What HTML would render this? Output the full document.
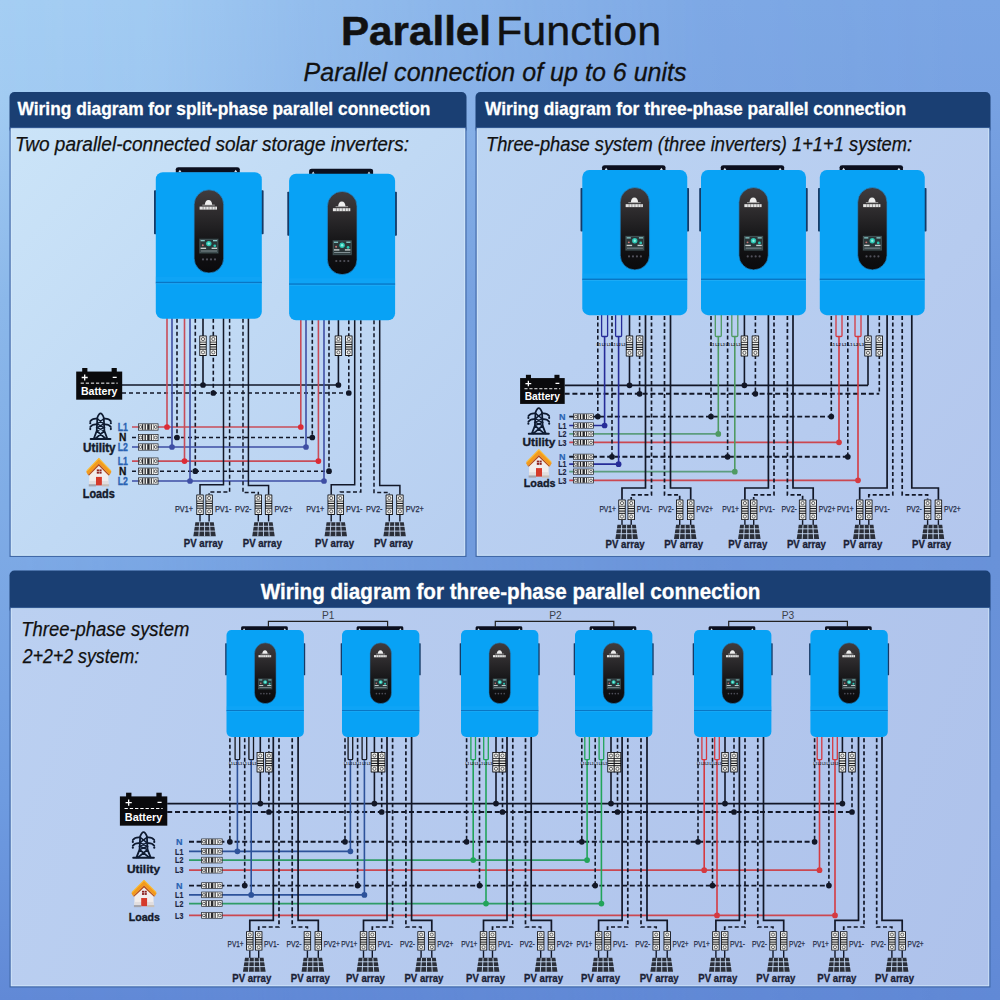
<!DOCTYPE html><html><head><meta charset="utf-8"><title>Parallel Function</title><style>html,body{margin:0;padding:0;width:1000px;height:1000px;overflow:hidden;background:#8fb7e8}svg{display:block}text{font-family:"Liberation Sans",sans-serif}</style></head><body>
<svg width="1000" height="1000" viewBox="0 0 1000 1000" font-family='"Liberation Sans", sans-serif'>

<defs>
<linearGradient id="bgL" x1="0" y1="0" x2="0" y2="1000" gradientUnits="userSpaceOnUse">
  <stop offset="0" stop-color="#a5cef3"/>
  <stop offset="0.1" stop-color="#a2cbf2"/>
  <stop offset="0.3" stop-color="#8cb8ea"/>
  <stop offset="0.8" stop-color="#6e9be0"/>
  <stop offset="1" stop-color="#6189d6"/>
</linearGradient>
<linearGradient id="bgR" x1="0" y1="0" x2="0" y2="1000" gradientUnits="userSpaceOnUse">
  <stop offset="0" stop-color="#7aa5e4"/>
  <stop offset="0.1" stop-color="#78a2e2"/>
  <stop offset="0.3" stop-color="#6a94da"/>
  <stop offset="0.8" stop-color="#6890d8"/>
  <stop offset="1" stop-color="#6189d6"/>
</linearGradient>
<linearGradient id="bgMaskG" x1="0" y1="0" x2="1000" y2="0" gradientUnits="userSpaceOnUse">
  <stop offset="0" stop-color="#fff"/>
  <stop offset="0.15" stop-color="#e6e6e6"/>
  <stop offset="0.3" stop-color="#999"/>
  <stop offset="0.5" stop-color="#595959"/>
  <stop offset="0.7" stop-color="#1a1a1a"/>
  <stop offset="1" stop-color="#000"/>
</linearGradient>
<mask id="bgMask"><rect width="1000" height="1000" fill="url(#bgMaskG)"/></mask>
<linearGradient id="p1G" x1="10" y1="128" x2="466" y2="557" gradientUnits="userSpaceOnUse">
  <stop offset="0" stop-color="#cbe4f8"/>
  <stop offset="0.5" stop-color="#c0d9f4"/>
  <stop offset="1" stop-color="#b7cef0"/>
</linearGradient>
<linearGradient id="p2G" x1="476" y1="128" x2="990" y2="557" gradientUnits="userSpaceOnUse">
  <stop offset="0" stop-color="#bcd5f3"/>
  <stop offset="1" stop-color="#b3c6ed"/>
</linearGradient>
<linearGradient id="p3G" x1="10" y1="608" x2="990" y2="987" gradientUnits="userSpaceOnUse">
  <stop offset="0" stop-color="#bbd0f1"/>
  <stop offset="1" stop-color="#aec2eb"/>
</linearGradient>
<linearGradient id="dispG" x1="0" y1="0" x2="0" y2="1">
  <stop offset="0" stop-color="#403c3e"/>
  <stop offset="0.3" stop-color="#2c2a2c"/>
  <stop offset="0.6" stop-color="#161618"/>
  <stop offset="1" stop-color="#0a0a0c"/>
</linearGradient>
<g id="inv">
  <path d="M20 0.5 L20 -3 Q20 -5 22.5 -5 L81.5 -5 Q84 -5 84 -3 L84 0.5 Z" fill="#0b0f1e"/>
  <path d="M22.6 -0.1 L24.1 -2.4 L25.6 -0.1 Z M78.4 -0.1 L79.9 -2.4 L81.4 -0.1 Z" fill="#d6e2ee"/>
  <rect x="-1.8" y="18" width="2.6" height="44" rx="0.8" fill="#163a66"/>
  <rect x="105.2" y="18" width="2.6" height="44" rx="0.8" fill="#163a66"/>
  <rect x="0" y="0" width="106" height="146.5" rx="7" fill="#08a2f5"/>
  <rect x="0" y="104.5" width="106" height="5.1" fill="#1aaaf8" opacity="0.35"/>
  <rect x="0" y="109.6" width="106" height="1.4" fill="#0a76c4"/>
  <rect x="0" y="111" width="106" height="1" fill="#2bb0f7" opacity="0.6"/>
  <rect x="38.3" y="17.6" width="29.6" height="83.2" rx="14.8" fill="url(#dispG)" stroke="#1b8fd8" stroke-width="0.7"/>
  <path d="M49 32.7 Q49.4 27.8 52.7 27.8 Q56 27.8 56.4 32.7 Z" fill="#eeeeee"/>
  <path d="M46.5 32.9 H59" stroke="#bdbdbd" stroke-width="0.8"/>
  <rect x="43.8" y="34.4" width="17.4" height="3" fill="#e4e4e4"/>
  <path d="M47.3 34.4 v3 M50.1 34.4 v3 M53.2 34.4 v3 M56.4 34.4 v3 M59.2 34.4 v3" stroke="#3a3a3a" stroke-width="0.45"/>
  <rect x="43.3" y="66.3" width="19.6" height="15.2" fill="#2a3638"/>
  <rect x="44.2" y="67.2" width="17.8" height="13.4" fill="none" stroke="#55686c" stroke-width="0.5"/>
  <circle cx="53" cy="71.4" r="2.7" fill="#2cc7b4"/>
  <circle cx="53" cy="71.4" r="1.2" fill="#8ef0e0"/>
  <rect x="44.8" y="67.8" width="4.2" height="1.3" fill="#8cc"/>
  <rect x="57.2" y="67.8" width="4.2" height="1.3" fill="#8cc"/>
  <rect x="44.8" y="75.4" width="5.5" height="1.4" fill="#c8d0d0"/>
  <rect x="55.8" y="75.4" width="5.5" height="1.4" fill="#c8d0d0"/>
  <circle cx="59" cy="73.6" r="1.4" fill="#2cc7b4"/>
  <circle cx="47" cy="73" r="1" fill="#c77"/>
  <rect x="45" y="78.3" width="16.2" height="1" fill="#8a9a9e"/>
  <circle cx="47.2" cy="87.2" r="1.1" fill="#50505a"/>
  <circle cx="51.2" cy="87.2" r="1.1" fill="#50505a"/>
  <circle cx="55.2" cy="87.2" r="1.1" fill="#50505a"/>
  <circle cx="59.2" cy="87.2" r="1.1" fill="#50505a"/>
</g>
<g id="brk">
  <rect x="0" y="0" width="7.4" height="20.4" rx="0.4" fill="#15161a"/>
  <rect x="0.9" y="0.9" width="5.6" height="5.3" fill="#f3f3ef"/>
  <rect x="0.9" y="14.2" width="5.6" height="5.3" fill="#f3f3ef"/>
  <rect x="0.9" y="7.0" width="5.6" height="1.4" fill="#f0f0ec"/>
  <rect x="0.9" y="9.5" width="5.6" height="1.4" fill="#f0f0ec"/>
  <rect x="0.9" y="12.0" width="5.6" height="1.2" fill="#f0f0ec"/>
  <circle cx="3.7" cy="3.55" r="1.6" fill="none" stroke="#2a2a2e" stroke-width="0.7"/>
  <circle cx="3.7" cy="16.85" r="1.6" fill="none" stroke="#2a2a2e" stroke-width="0.7"/>
</g>
<g id="term">
  <rect x="0.35" y="0.35" width="19.7" height="6.3" fill="#f6f6f2" stroke="#16171c" stroke-width="0.7"/>
  <circle cx="2.5" cy="3.5" r="1.45" fill="none" stroke="#1d1d22" stroke-width="0.7"/>
  <circle cx="17.7" cy="3.5" r="1.45" fill="none" stroke="#1d1d22" stroke-width="0.7"/>
  <rect x="4.1" y="0.7" width="1.1" height="5.6" fill="#1a1a1e"/>
  <rect x="6.6" y="0.7" width="1.2" height="5.6" fill="#1a1a1e"/>
  <rect x="9.2" y="0.7" width="2.4" height="5.6" fill="#2a2a2e"/>
  <rect x="12.8" y="0.7" width="1" height="5.6" fill="#1a1a1e"/>
  <rect x="15.2" y="0.7" width="0.5" height="5.6" fill="#555"/>
</g>
<g id="solar">
  <path d="M2 0 L20 0 L22 14 L0 14 Z" fill="#2b2f39"/>
  <path d="M0.6 4 L21.4 4 M0.2 8.8 L21.8 8.8 M6.2 0 L5.4 14 M11 0 L11 14 M15.8 0 L16.6 14" stroke="#c4d6f0" stroke-width="0.9" fill="none"/>
</g>
<g id="bat">
  <rect x="6" y="0" width="5.2" height="4.5" fill="#0a0a0c"/>
  <rect x="35.4" y="0" width="5.2" height="4.5" fill="#0a0a0c"/>
  <rect x="0" y="3.6" width="46" height="28.4" fill="#0a0a0c"/>
  <path d="M5.5 9.6 h6 M8.5 6.6 v6 M36.5 9.4 h4" stroke="#fff" stroke-width="1.3"/>
  <path d="M4.5 15.3 H41.5" stroke="#fff" stroke-width="1" stroke-dasharray="3.2 1.9"/>
  <text x="23" y="27.2" font-size="11.2" font-weight="bold" fill="#fff" text-anchor="middle" textLength="36.5" lengthAdjust="spacingAndGlyphs">Battery</text>
</g>
<g id="tower" fill="none" stroke="#0e1a30" stroke-width="1.8" stroke-linecap="round">
  <path d="M8.4 19.6 L9 6.4 Q12.3 -2.2 15.6 6.4 L16.2 19.6 M8.4 19.6 L5.4 27.4 M16.2 19.6 L19.2 27.4 M8.4 19.6 L17.6 27.4 M16.2 19.6 L7 27.4"/>
  <path d="M2.2 27.8 H22.4" stroke-width="2"/>
  <path d="M9 7.4 L15.6 12.6 L8.7 16.4 L16.2 19.6 M15.6 7.4 L8.8 12.6 L15.9 16.4 L8.4 19.6" stroke-width="1.4"/>
  <path d="M9 7.4 Q4 6.8 1.8 10 M8.8 13.2 Q4 12.6 1.8 15.8 M15.6 7.4 Q20.6 6.8 22.8 10 M15.8 13.2 Q20.6 12.6 22.8 15.8"/>
  <path d="M1.8 11.7 v0.2 M1.8 17.6 v0.2 M22.8 11.7 v0.2 M22.8 17.6 v0.2" stroke-width="2.1"/>
</g>
<g id="house">
  <path d="M3.5 14 L13.3 5 L23 14 L23 27 L3.5 27 Z" fill="#f1eded"/>
  <path d="M3.5 23.5 H23 V27 H3.5 Z" fill="#e2dedf"/>
  <path d="M0.4 14.2 L13.3 0.4 L26.2 14.2 L24.4 17.4 L13.3 6.2 L2.2 17.4 Z" fill="#f39a1c"/>
  <path d="M2.2 17.4 L13.3 6.2 L24.4 17.4 L23.2 17.9 L13.3 8.2 L3.4 17.9 Z" fill="#b64a16"/>
  <path d="M1 13.4 L13.3 0.9 L25.6 13.4" fill="none" stroke="#f8be3a" stroke-width="1.1"/>
  <rect x="11.2" y="11.8" width="2.2" height="1.9" fill="#8c2222"/>
  <rect x="13.9" y="11.8" width="2.2" height="1.9" fill="#8c2222"/>
  <rect x="11.2" y="14.2" width="2.2" height="1.9" fill="#8c2222"/>
  <rect x="13.9" y="14.2" width="2.2" height="1.9" fill="#8c2222"/>
  <rect x="10.4" y="19.4" width="6" height="8.6" fill="#d53a2b"/>
  <rect x="3" y="26.8" width="7.4" height="2.2" fill="#a4a4ac"/>
  <rect x="16.4" y="26.8" width="7.4" height="2.2" fill="#c8c0b8"/>
</g>
</defs>

<rect width="1000" height="1000" fill="url(#bgR)"/>
<rect width="1000" height="1000" fill="url(#bgL)" mask="url(#bgMask)"/>
<text x="341" y="45.4" font-size="40" font-weight="bold" font-style="normal" fill="#111" text-anchor="start" textLength="150" lengthAdjust="spacingAndGlyphs" stroke="#111" stroke-width="0.5">Parallel</text>
<text x="495.9" y="45.4" font-size="40" font-weight="normal" font-style="normal" fill="#111" text-anchor="start" textLength="165.3" lengthAdjust="spacingAndGlyphs" stroke="#111" stroke-width="0.35">Function</text>
<text x="303.6" y="81.2" font-size="26.5" font-weight="normal" font-style="italic" fill="#111" text-anchor="start" textLength="383" lengthAdjust="spacingAndGlyphs" stroke="#111" stroke-width="0.3">Parallel connection of up to 6 units</text>
<rect x="9.5" y="92" width="457" height="42" rx="5" fill="#1a3f73"/>
<rect x="10.1" y="128" width="455.8" height="428.4" fill="url(#p1G)" stroke="#4169a8" stroke-width="1.2"/>
<rect x="11.3" y="128.6" width="453.4" height="426.6" fill="none" stroke="#d6ebfb" stroke-width="0.8" opacity="0.8"/>
<rect x="475.5" y="92" width="515" height="42" rx="5" fill="#1a3f73"/>
<rect x="476.1" y="128" width="513.8" height="428.4" fill="url(#p2G)" stroke="#4169a8" stroke-width="1.2"/>
<rect x="477.3" y="128.6" width="511.4" height="426.6" fill="none" stroke="#d6ebfb" stroke-width="0.8" opacity="0.8"/>
<rect x="9.5" y="570.5" width="981" height="43.5" rx="5" fill="#1a3f73"/>
<rect x="10.1" y="608" width="979.8" height="378.9" fill="url(#p3G)" stroke="#4169a8" stroke-width="1.2"/>
<rect x="11.3" y="608.6" width="977.4" height="377.1" fill="none" stroke="#d6ebfb" stroke-width="0.8" opacity="0.8"/>
<text x="17.6" y="115.3" font-size="19" font-weight="bold" font-style="normal" fill="#fff" text-anchor="start" textLength="412.8" lengthAdjust="spacingAndGlyphs" stroke="#fff" stroke-width="0.3">Wiring diagram for split-phase parallel connection</text>
<text x="15" y="151.2" font-size="20.5" font-weight="normal" font-style="italic" fill="#111" text-anchor="start" textLength="394" lengthAdjust="spacingAndGlyphs" stroke="#111" stroke-width="0.25">Two parallel-connected solar storage inverters:</text>
<text x="484.9" y="115.3" font-size="19" font-weight="bold" font-style="normal" fill="#fff" text-anchor="start" textLength="421.2" lengthAdjust="spacingAndGlyphs" stroke="#fff" stroke-width="0.3">Wiring diagram for three-phase parallel connection</text>
<text x="486" y="151.2" font-size="20.5" font-weight="normal" font-style="italic" fill="#111" text-anchor="start" textLength="426" lengthAdjust="spacingAndGlyphs" stroke="#111" stroke-width="0.25">Three-phase system (three inverters) 1+1+1 system:</text>
<text x="260.8" y="598.8" font-size="21.5" font-weight="bold" font-style="normal" fill="#fff" text-anchor="start" textLength="499.6" lengthAdjust="spacingAndGlyphs" stroke="#fff" stroke-width="0.3">Wiring diagram for three-phase parallel connection</text>
<text x="21.3" y="635.8" font-size="20.5" font-weight="normal" font-style="italic" fill="#111" text-anchor="start" textLength="168" lengthAdjust="spacingAndGlyphs" stroke="#111" stroke-width="0.25">Three-phase system</text>
<text x="22.8" y="663" font-size="20.5" font-weight="normal" font-style="italic" fill="#111" text-anchor="start" textLength="116.5" lengthAdjust="spacingAndGlyphs" stroke="#111" stroke-width="0.25">2+2+2 system:</text>
<path d="M132 427 L300.8 427" fill="none" stroke="#c84c58" stroke-width="1.6"/>
<path d="M132 437.5 L312.3 437.5" fill="none" stroke="#121727" stroke-width="1.6" stroke-dasharray="4 3"/>
<path d="M132 447 L306 447" fill="none" stroke="#3e4ea4" stroke-width="1.6"/>
<path d="M132 461.1 L318.4 461.1" fill="none" stroke="#c84c58" stroke-width="1.6"/>
<path d="M132 471.2 L329 471.2" fill="none" stroke="#121727" stroke-width="1.6" stroke-dasharray="4 3"/>
<path d="M132 481 L324 481" fill="none" stroke="#3e4ea4" stroke-width="1.6"/>
<path d="M122 385 L338.4 385" fill="none" stroke="#121727" stroke-width="1.6"/>
<path d="M122 393 L348.8 393" fill="none" stroke="#121727" stroke-width="1.6" stroke-dasharray="4 3"/>
<path d="M167 312.2 L167 427" fill="none" stroke="#c84c58" stroke-width="1.6"/>
<path d="M172 312.2 L172 447" fill="none" stroke="#3e4ea4" stroke-width="1.6"/>
<path d="M177 312.2 L177 437.5" fill="none" stroke="#121727" stroke-width="1.6" stroke-dasharray="4 2.5"/>
<path d="M184.5 312.2 L184.5 461.1" fill="none" stroke="#c84c58" stroke-width="1.6"/>
<path d="M190 312.2 L190 481" fill="none" stroke="#3e4ea4" stroke-width="1.6"/>
<path d="M195.3 312.2 L195.3 471.2" fill="none" stroke="#121727" stroke-width="1.6" stroke-dasharray="4 2.5"/>
<path d="M203 312.2 L203 385" fill="none" stroke="#121727" stroke-width="1.6"/>
<path d="M213.3 312.2 L213.3 393" fill="none" stroke="#121727" stroke-width="1.6" stroke-dasharray="4 2.5"/>
<path d="M223.5 312.2 L223.5 484.8 L200 484.8 L200 494.5" fill="none" stroke="#121727" stroke-width="1.5"/>
<path d="M229.6 312.2 L229.6 492 L209.1 492 L209.1 494.5" fill="none" stroke="#121727" stroke-width="1.5" stroke-dasharray="4 2.5"/>
<path d="M243 312.2 L243 492.6 L258.3 492.6 L258.3 494.5" fill="none" stroke="#121727" stroke-width="1.5" stroke-dasharray="4 2.5"/>
<path d="M248.4 312.2 L248.4 485.5 L268.6 485.5 L268.6 494.5" fill="none" stroke="#121727" stroke-width="1.5"/>
<use href="#brk" transform="translate(199.3 335.5) scale(1 1)"/>
<use href="#brk" transform="translate(209.6 335.5) scale(1 1)"/>
<circle cx="167" cy="427" r="2.85" fill="#dc2a35"/>
<circle cx="172" cy="447" r="2.85" fill="#3e4ea4"/>
<circle cx="177" cy="437.5" r="2.85" fill="#121727"/>
<circle cx="184.5" cy="461.1" r="2.85" fill="#dc2a35"/>
<circle cx="190" cy="481" r="2.85" fill="#3e4ea4"/>
<circle cx="195.3" cy="471.2" r="2.85" fill="#121727"/>
<circle cx="203" cy="385" r="2.85" fill="#121727"/>
<circle cx="213.3" cy="393" r="2.85" fill="#121727"/>
<use href="#brk" transform="translate(196.3 494.5) scale(1 1)"/>
<path d="M200 515 L200 521.5" fill="none" stroke="#121727" stroke-width="1.4"/>
<use href="#brk" transform="translate(205.4 494.5) scale(1 1)"/>
<path d="M209.1 515 L209.1 521.5" fill="none" stroke="#121727" stroke-width="1.4"/>
<use href="#brk" transform="translate(254.6 494.5) scale(1 1)"/>
<path d="M258.3 515 L258.3 521.5" fill="none" stroke="#121727" stroke-width="1.4"/>
<use href="#brk" transform="translate(264.9 494.5) scale(1 1)"/>
<path d="M268.6 515 L268.6 521.5" fill="none" stroke="#121727" stroke-width="1.4"/>
<text x="193" y="512" font-size="9.5" font-weight="normal" font-style="normal" fill="#1f2a44" text-anchor="end" textLength="18" lengthAdjust="spacingAndGlyphs" stroke="#1f2a44" stroke-width="0.25">PV1+</text>
<text x="214.9" y="512" font-size="9.5" font-weight="normal" font-style="normal" fill="#1f2a44" text-anchor="start" textLength="16.5" lengthAdjust="spacingAndGlyphs" stroke="#1f2a44" stroke-width="0.25">PV1-</text>
<text x="251.5" y="512" font-size="9.5" font-weight="normal" font-style="normal" fill="#1f2a44" text-anchor="end" textLength="16.5" lengthAdjust="spacingAndGlyphs" stroke="#1f2a44" stroke-width="0.25">PV2-</text>
<text x="274.4" y="512" font-size="9.5" font-weight="normal" font-style="normal" fill="#1f2a44" text-anchor="start" textLength="18" lengthAdjust="spacingAndGlyphs" stroke="#1f2a44" stroke-width="0.25">PV2+</text>
<use href="#solar" transform="translate(193.35 522.3) scale(1.02 1)"/>
<text x="183.85" y="547" font-size="10.6" font-weight="bold" font-style="normal" fill="#1a2135" text-anchor="start" textLength="39" lengthAdjust="spacingAndGlyphs" stroke="#1a2135" stroke-width="0.3">PV array</text>
<use href="#solar" transform="translate(252.25 522.3) scale(1.02 1)"/>
<text x="242.75" y="547" font-size="10.6" font-weight="bold" font-style="normal" fill="#1a2135" text-anchor="start" textLength="39" lengthAdjust="spacingAndGlyphs" stroke="#1a2135" stroke-width="0.3">PV array</text>
<path d="M300.8 313.8 L300.8 427" fill="none" stroke="#c84c58" stroke-width="1.6"/>
<path d="M306 313.8 L306 447" fill="none" stroke="#3e4ea4" stroke-width="1.6"/>
<path d="M312.3 313.8 L312.3 437.5" fill="none" stroke="#121727" stroke-width="1.6" stroke-dasharray="4 2.5"/>
<path d="M318.4 313.8 L318.4 461.1" fill="none" stroke="#c84c58" stroke-width="1.6"/>
<path d="M324 313.8 L324 481" fill="none" stroke="#3e4ea4" stroke-width="1.6"/>
<path d="M329 313.8 L329 471.2" fill="none" stroke="#121727" stroke-width="1.6" stroke-dasharray="4 2.5"/>
<path d="M338.4 313.8 L338.4 385" fill="none" stroke="#121727" stroke-width="1.6"/>
<path d="M348.8 313.8 L348.8 393" fill="none" stroke="#121727" stroke-width="1.6" stroke-dasharray="4 2.5"/>
<path d="M354.7 313.8 L354.7 484.8 L331.2 484.8 L331.2 494.5" fill="none" stroke="#121727" stroke-width="1.5"/>
<path d="M360.8 313.8 L360.8 492 L340.3 492 L340.3 494.5" fill="none" stroke="#121727" stroke-width="1.5" stroke-dasharray="4 2.5"/>
<path d="M374 313.8 L374 492.6 L389.3 492.6 L389.3 494.5" fill="none" stroke="#121727" stroke-width="1.5" stroke-dasharray="4 2.5"/>
<path d="M379.7 313.8 L379.7 485.5 L399.9 485.5 L399.9 494.5" fill="none" stroke="#121727" stroke-width="1.5"/>
<use href="#brk" transform="translate(334.7 335.5) scale(1 1)"/>
<use href="#brk" transform="translate(345.1 335.5) scale(1 1)"/>
<circle cx="300.8" cy="427" r="2.85" fill="#dc2a35"/>
<circle cx="306" cy="447" r="2.85" fill="#3e4ea4"/>
<circle cx="312.3" cy="437.5" r="2.85" fill="#121727"/>
<circle cx="318.4" cy="461.1" r="2.85" fill="#dc2a35"/>
<circle cx="324" cy="481" r="2.85" fill="#3e4ea4"/>
<circle cx="329" cy="471.2" r="2.85" fill="#121727"/>
<circle cx="338.4" cy="385" r="2.85" fill="#121727"/>
<circle cx="348.8" cy="393" r="2.85" fill="#121727"/>
<use href="#brk" transform="translate(327.5 494.5) scale(1 1)"/>
<path d="M331.2 515 L331.2 521.5" fill="none" stroke="#121727" stroke-width="1.4"/>
<use href="#brk" transform="translate(336.6 494.5) scale(1 1)"/>
<path d="M340.3 515 L340.3 521.5" fill="none" stroke="#121727" stroke-width="1.4"/>
<use href="#brk" transform="translate(385.6 494.5) scale(1 1)"/>
<path d="M389.3 515 L389.3 521.5" fill="none" stroke="#121727" stroke-width="1.4"/>
<use href="#brk" transform="translate(396.2 494.5) scale(1 1)"/>
<path d="M399.9 515 L399.9 521.5" fill="none" stroke="#121727" stroke-width="1.4"/>
<text x="324.2" y="512" font-size="9.5" font-weight="normal" font-style="normal" fill="#1f2a44" text-anchor="end" textLength="18" lengthAdjust="spacingAndGlyphs" stroke="#1f2a44" stroke-width="0.25">PV1+</text>
<text x="346.1" y="512" font-size="9.5" font-weight="normal" font-style="normal" fill="#1f2a44" text-anchor="start" textLength="16.5" lengthAdjust="spacingAndGlyphs" stroke="#1f2a44" stroke-width="0.25">PV1-</text>
<text x="382.5" y="512" font-size="9.5" font-weight="normal" font-style="normal" fill="#1f2a44" text-anchor="end" textLength="16.5" lengthAdjust="spacingAndGlyphs" stroke="#1f2a44" stroke-width="0.25">PV2-</text>
<text x="405.7" y="512" font-size="9.5" font-weight="normal" font-style="normal" fill="#1f2a44" text-anchor="start" textLength="18" lengthAdjust="spacingAndGlyphs" stroke="#1f2a44" stroke-width="0.25">PV2+</text>
<use href="#solar" transform="translate(324.55 522.3) scale(1.02 1)"/>
<text x="315.05" y="547" font-size="10.6" font-weight="bold" font-style="normal" fill="#1a2135" text-anchor="start" textLength="39" lengthAdjust="spacingAndGlyphs" stroke="#1a2135" stroke-width="0.3">PV array</text>
<use href="#solar" transform="translate(383.4 522.3) scale(1.02 1)"/>
<text x="373.9" y="547" font-size="10.6" font-weight="bold" font-style="normal" fill="#1a2135" text-anchor="start" textLength="39" lengthAdjust="spacingAndGlyphs" stroke="#1a2135" stroke-width="0.3">PV array</text>
<use href="#inv" transform="translate(155.8 172.2) scale(1)"/>
<use href="#inv" transform="translate(289.1 173.8) scale(1)"/>
<use href="#bat" transform="translate(76.2 368) scale(1 0.99)"/>
<use href="#tower" transform="translate(88.5 411.3) scale(0.98 1)"/>
<text x="83.1" y="451.6" font-size="12" font-weight="bold" font-style="normal" fill="#141a2b" text-anchor="start" textLength="32.5" lengthAdjust="spacingAndGlyphs" stroke="#141a2b" stroke-width="0.4">Utility</text>
<use href="#house" transform="translate(85.8 457.7) scale(0.98 0.99)"/>
<text x="82.8" y="497.6" font-size="12" font-weight="bold" font-style="normal" fill="#141a2b" text-anchor="start" textLength="32" lengthAdjust="spacingAndGlyphs" stroke="#141a2b" stroke-width="0.4">Loads</text>
<text x="122.8" y="430.9" font-size="11" font-weight="bold" font-style="normal" fill="#2a63b3" text-anchor="middle" textLength="10.2" lengthAdjust="spacingAndGlyphs" stroke="#2a63b3" stroke-width="0.3">L1</text>
<use href="#term" transform="translate(138 423.5) scale(1 1)"/>
<text x="122.8" y="441.4" font-size="11" font-weight="bold" font-style="normal" fill="#111" text-anchor="middle" textLength="7.4" lengthAdjust="spacingAndGlyphs" stroke="#111" stroke-width="0.3">N</text>
<use href="#term" transform="translate(138 434) scale(1 1)"/>
<text x="122.8" y="450.9" font-size="11" font-weight="bold" font-style="normal" fill="#2a63b3" text-anchor="middle" textLength="10.2" lengthAdjust="spacingAndGlyphs" stroke="#2a63b3" stroke-width="0.3">L2</text>
<use href="#term" transform="translate(138 443.5) scale(1 1)"/>
<text x="122.8" y="465" font-size="11" font-weight="bold" font-style="normal" fill="#2a63b3" text-anchor="middle" textLength="10.2" lengthAdjust="spacingAndGlyphs" stroke="#2a63b3" stroke-width="0.3">L1</text>
<use href="#term" transform="translate(138 457.6) scale(1 1)"/>
<text x="122.8" y="475.1" font-size="11" font-weight="bold" font-style="normal" fill="#111" text-anchor="middle" textLength="7.4" lengthAdjust="spacingAndGlyphs" stroke="#111" stroke-width="0.3">N</text>
<use href="#term" transform="translate(138 467.7) scale(1 1)"/>
<text x="122.8" y="484.9" font-size="11" font-weight="bold" font-style="normal" fill="#2a63b3" text-anchor="middle" textLength="10.2" lengthAdjust="spacingAndGlyphs" stroke="#2a63b3" stroke-width="0.3">L2</text>
<use href="#term" transform="translate(138 477.5) scale(1 1)"/>
<path d="M569.2 416.6 L831.3 416.6" fill="none" stroke="#121727" stroke-width="1.9" stroke-dasharray="5 2.6"/>
<path d="M569.2 425.5 L605.3 425.5" fill="none" stroke="#262c98" stroke-width="1.7"/>
<path d="M569.2 433.9 L718.4 433.9" fill="none" stroke="#5c9d7e" stroke-width="1.7"/>
<path d="M569.2 442.3 L838.8 442.3" fill="none" stroke="#cb4750" stroke-width="1.7"/>
<path d="M569.2 456.8 L847.8 456.8" fill="none" stroke="#121727" stroke-width="1.9" stroke-dasharray="5 2.6"/>
<path d="M569.2 464.2 L619 464.2" fill="none" stroke="#262c98" stroke-width="1.7"/>
<path d="M569.2 471.7 L734.7 471.7" fill="none" stroke="#5c9d7e" stroke-width="1.7"/>
<path d="M569.2 480.3 L857.6 480.3" fill="none" stroke="#cb4750" stroke-width="1.7"/>
<path d="M564.6 385.3 L868 385.3" fill="none" stroke="#121727" stroke-width="1.7"/>
<path d="M564.6 393.8 L879.3 393.8" fill="none" stroke="#121727" stroke-width="1.9" stroke-dasharray="5 2.8"/>
<path d="M597.8 309.4 L597.8 416.6" fill="none" stroke="#121727" stroke-width="1.6" stroke-dasharray="4 2.5"/>
<path d="M612 309.4 L612 456.8" fill="none" stroke="#121727" stroke-width="1.6" stroke-dasharray="4 2.5"/>
<path d="M601.6 309.4 L601.6 335.5 Q601.6 336.5 602.6 336.5 L606.6 336.5 Q607.6 336.5 607.6 335.5 L607.6 309.4" fill="none" stroke="#262c98" stroke-width="1.3"/>
<path d="M604.6 336.5 L604.6 425.5" fill="none" stroke="#262c98" stroke-width="1.6"/>
<path d="M615.6 309.4 L615.6 335.5 Q615.6 336.5 616.6 336.5 L620.6 336.5 Q621.6 336.5 621.6 335.5 L621.6 309.4" fill="none" stroke="#262c98" stroke-width="1.3"/>
<path d="M618.6 336.5 L618.6 464.2" fill="none" stroke="#262c98" stroke-width="1.6"/>
<path d="M629.5 309.4 L629.5 385.3" fill="none" stroke="#121727" stroke-width="1.6"/>
<path d="M639.6 309.4 L639.6 393.8" fill="none" stroke="#121727" stroke-width="1.6" stroke-dasharray="4 2.5"/>
<path d="M645.5 309.4 L645.5 488 L622 488 L622 499.5" fill="none" stroke="#121727" stroke-width="1.7"/>
<path d="M651.5 309.4 L651.5 494.8 L631.2 494.8 L631.2 499.5" fill="none" stroke="#121727" stroke-width="1.7" stroke-dasharray="4 2.5"/>
<path d="M664.5 309.4 L664.5 494.8 L679.7 494.8 L679.7 499.5" fill="none" stroke="#121727" stroke-width="1.7" stroke-dasharray="4 2.5"/>
<path d="M670.5 309.4 L670.5 488 L690.7 488 L690.7 499.5" fill="none" stroke="#121727" stroke-width="1.7"/>
<use href="#brk" transform="translate(625.8 335.5) scale(1 1.03)"/>
<use href="#brk" transform="translate(635.9 335.5) scale(1 1.03)"/>
<circle cx="597.8" cy="416.6" r="2.85" fill="#121727"/>
<circle cx="612" cy="456.8" r="2.85" fill="#121727"/>
<circle cx="604.6" cy="425.5" r="2.85" fill="#262c98"/>
<circle cx="618.6" cy="464.2" r="2.85" fill="#262c98"/>
<circle cx="629.5" cy="385.3" r="2.85" fill="#121727"/>
<circle cx="639.6" cy="393.8" r="2.85" fill="#121727"/>
<text x="596.8" y="345.5" font-size="4.4" fill="#15161c" font-weight="bold" textLength="28.7" lengthAdjust="spacingAndGlyphs">L1 L2 L3 L1 L2 L3</text>
<use href="#brk" transform="translate(618.3 499.5) scale(1 1.01)"/>
<path d="M622 520.1 L622 525.3" fill="none" stroke="#121727" stroke-width="1.4"/>
<use href="#brk" transform="translate(627.5 499.5) scale(1 1.01)"/>
<path d="M631.2 520.1 L631.2 525.3" fill="none" stroke="#121727" stroke-width="1.4"/>
<use href="#brk" transform="translate(676 499.5) scale(1 1.01)"/>
<path d="M679.7 520.1 L679.7 525.3" fill="none" stroke="#121727" stroke-width="1.4"/>
<use href="#brk" transform="translate(687 499.5) scale(1 1.01)"/>
<path d="M690.7 520.1 L690.7 525.3" fill="none" stroke="#121727" stroke-width="1.4"/>
<text x="616" y="512" font-size="9.3" font-weight="normal" font-style="normal" fill="#1f2a44" text-anchor="end" textLength="16.6" lengthAdjust="spacingAndGlyphs" stroke="#1f2a44" stroke-width="0.25">PV1+</text>
<text x="636.8" y="512" font-size="9.3" font-weight="normal" font-style="normal" fill="#1f2a44" text-anchor="start" textLength="15.4" lengthAdjust="spacingAndGlyphs" stroke="#1f2a44" stroke-width="0.25">PV1-</text>
<text x="673.9" y="512" font-size="9.3" font-weight="normal" font-style="normal" fill="#1f2a44" text-anchor="end" textLength="15.4" lengthAdjust="spacingAndGlyphs" stroke="#1f2a44" stroke-width="0.25">PV2-</text>
<text x="696.3" y="512" font-size="9.3" font-weight="normal" font-style="normal" fill="#1f2a44" text-anchor="start" textLength="16.6" lengthAdjust="spacingAndGlyphs" stroke="#1f2a44" stroke-width="0.25">PV2+</text>
<use href="#solar" transform="translate(615.4 524.8) scale(1.02 1.01)"/>
<text x="605.6" y="548" font-size="10.6" font-weight="bold" font-style="normal" fill="#1a2135" text-anchor="start" textLength="39" lengthAdjust="spacingAndGlyphs" stroke="#1a2135" stroke-width="0.3">PV array</text>
<use href="#solar" transform="translate(674 524.8) scale(1.02 1.01)"/>
<text x="664.2" y="548" font-size="10.6" font-weight="bold" font-style="normal" fill="#1a2135" text-anchor="start" textLength="39" lengthAdjust="spacingAndGlyphs" stroke="#1a2135" stroke-width="0.3">PV array</text>
<path d="M711 309.4 L711 416.6" fill="none" stroke="#121727" stroke-width="1.6" stroke-dasharray="4 2.5"/>
<path d="M727.6 309.4 L727.6 456.8" fill="none" stroke="#121727" stroke-width="1.6" stroke-dasharray="4 2.5"/>
<path d="M715.3 309.4 L715.3 335.5 Q715.3 336.5 716.3 336.5 L720.3 336.5 Q721.3 336.5 721.3 335.5 L721.3 309.4" fill="none" stroke="#4f9a62" stroke-width="1.3"/>
<path d="M718.3 336.5 L718.3 433.9" fill="none" stroke="#4f9a62" stroke-width="1.6"/>
<path d="M731.8 309.4 L731.8 335.5 Q731.8 336.5 732.8 336.5 L736.8 336.5 Q737.8 336.5 737.8 335.5 L737.8 309.4" fill="none" stroke="#4f9a62" stroke-width="1.3"/>
<path d="M734.8 336.5 L734.8 471.7" fill="none" stroke="#4f9a62" stroke-width="1.6"/>
<path d="M744.4 309.4 L744.4 385.3" fill="none" stroke="#121727" stroke-width="1.6"/>
<path d="M755.4 309.4 L755.4 393.8" fill="none" stroke="#121727" stroke-width="1.6" stroke-dasharray="4 2.5"/>
<path d="M768.4 309.4 L768.4 488 L744.9 488 L744.9 499.5" fill="none" stroke="#121727" stroke-width="1.7"/>
<path d="M774 309.4 L774 494.8 L753.7 494.8 L753.7 499.5" fill="none" stroke="#121727" stroke-width="1.7" stroke-dasharray="4 2.5"/>
<path d="M787.4 309.4 L787.4 494.8 L802.6 494.8 L802.6 499.5" fill="none" stroke="#121727" stroke-width="1.7" stroke-dasharray="4 2.5"/>
<path d="M793 309.4 L793 488 L813.2 488 L813.2 499.5" fill="none" stroke="#121727" stroke-width="1.7"/>
<use href="#brk" transform="translate(740.7 335.5) scale(1 1.03)"/>
<use href="#brk" transform="translate(751.7 335.5) scale(1 1.03)"/>
<circle cx="711" cy="416.6" r="2.85" fill="#121727"/>
<circle cx="727.6" cy="456.8" r="2.85" fill="#121727"/>
<circle cx="718.3" cy="433.9" r="2.85" fill="#4f9a62"/>
<circle cx="734.8" cy="471.7" r="2.85" fill="#4f9a62"/>
<circle cx="744.4" cy="385.3" r="2.85" fill="#121727"/>
<circle cx="755.4" cy="393.8" r="2.85" fill="#121727"/>
<text x="710" y="345.5" font-size="4.4" fill="#15161c" font-weight="bold" textLength="30.4" lengthAdjust="spacingAndGlyphs">L1 L2 L3 L1 L2 L3</text>
<use href="#brk" transform="translate(741.2 499.5) scale(1 1.01)"/>
<path d="M744.9 520.1 L744.9 525.3" fill="none" stroke="#121727" stroke-width="1.4"/>
<use href="#brk" transform="translate(750 499.5) scale(1 1.01)"/>
<path d="M753.7 520.1 L753.7 525.3" fill="none" stroke="#121727" stroke-width="1.4"/>
<use href="#brk" transform="translate(798.9 499.5) scale(1 1.01)"/>
<path d="M802.6 520.1 L802.6 525.3" fill="none" stroke="#121727" stroke-width="1.4"/>
<use href="#brk" transform="translate(809.5 499.5) scale(1 1.01)"/>
<path d="M813.2 520.1 L813.2 525.3" fill="none" stroke="#121727" stroke-width="1.4"/>
<text x="738.9" y="512" font-size="9.3" font-weight="normal" font-style="normal" fill="#1f2a44" text-anchor="end" textLength="16.6" lengthAdjust="spacingAndGlyphs" stroke="#1f2a44" stroke-width="0.25">PV1+</text>
<text x="759.3" y="512" font-size="9.3" font-weight="normal" font-style="normal" fill="#1f2a44" text-anchor="start" textLength="15.4" lengthAdjust="spacingAndGlyphs" stroke="#1f2a44" stroke-width="0.25">PV1-</text>
<text x="796.8" y="512" font-size="9.3" font-weight="normal" font-style="normal" fill="#1f2a44" text-anchor="end" textLength="15.4" lengthAdjust="spacingAndGlyphs" stroke="#1f2a44" stroke-width="0.25">PV2-</text>
<text x="818.8" y="512" font-size="9.3" font-weight="normal" font-style="normal" fill="#1f2a44" text-anchor="start" textLength="16.6" lengthAdjust="spacingAndGlyphs" stroke="#1f2a44" stroke-width="0.25">PV2+</text>
<use href="#solar" transform="translate(738.1 524.8) scale(1.02 1.01)"/>
<text x="728.3" y="548" font-size="10.6" font-weight="bold" font-style="normal" fill="#1a2135" text-anchor="start" textLength="39" lengthAdjust="spacingAndGlyphs" stroke="#1a2135" stroke-width="0.3">PV array</text>
<use href="#solar" transform="translate(796.7 524.8) scale(1.02 1.01)"/>
<text x="786.9" y="548" font-size="10.6" font-weight="bold" font-style="normal" fill="#1a2135" text-anchor="start" textLength="39" lengthAdjust="spacingAndGlyphs" stroke="#1a2135" stroke-width="0.3">PV array</text>
<path d="M831.3 309.4 L831.3 416.6" fill="none" stroke="#121727" stroke-width="1.6" stroke-dasharray="4 2.5"/>
<path d="M847.8 309.4 L847.8 456.8" fill="none" stroke="#121727" stroke-width="1.6" stroke-dasharray="4 2.5"/>
<path d="M836 309.4 L836 335.5 Q836 336.5 837 336.5 L841 336.5 Q842 336.5 842 335.5 L842 309.4" fill="none" stroke="#d53a40" stroke-width="1.3"/>
<path d="M839 336.5 L839 442.3" fill="none" stroke="#d53a40" stroke-width="1.6"/>
<path d="M855 309.4 L855 335.5 Q855 336.5 856 336.5 L860 336.5 Q861 336.5 861 335.5 L861 309.4" fill="none" stroke="#d53a40" stroke-width="1.3"/>
<path d="M858 336.5 L858 480.3" fill="none" stroke="#d53a40" stroke-width="1.6"/>
<path d="M868 309.4 L868 385.3" fill="none" stroke="#121727" stroke-width="1.6"/>
<path d="M879.3 309.4 L879.3 393.8" fill="none" stroke="#121727" stroke-width="1.6" stroke-dasharray="4 2.5"/>
<path d="M887.1 309.4 L887.1 488 L859.7 488 L859.7 499.5" fill="none" stroke="#121727" stroke-width="1.7"/>
<path d="M892.8 309.4 L892.8 494.8 L868.8 494.8 L868.8 499.5" fill="none" stroke="#121727" stroke-width="1.7" stroke-dasharray="4 2.5"/>
<path d="M902.2 309.4 L902.2 494.8 L927.6 494.8 L927.6 499.5" fill="none" stroke="#121727" stroke-width="1.7" stroke-dasharray="4 2.5"/>
<path d="M911.8 309.4 L911.8 488 L938.4 488 L938.4 499.5" fill="none" stroke="#121727" stroke-width="1.7"/>
<use href="#brk" transform="translate(864.3 335.5) scale(1 1.03)"/>
<use href="#brk" transform="translate(875.6 335.5) scale(1 1.03)"/>
<circle cx="831.3" cy="416.6" r="2.85" fill="#121727"/>
<circle cx="847.8" cy="456.8" r="2.85" fill="#121727"/>
<circle cx="839" cy="442.3" r="2.85" fill="#d53a40"/>
<circle cx="858" cy="480.3" r="2.85" fill="#d53a40"/>
<text x="830.3" y="345.5" font-size="4.4" fill="#15161c" font-weight="bold" textLength="33.7" lengthAdjust="spacingAndGlyphs">L1 L2 L3 L1 L2 L3</text>
<use href="#brk" transform="translate(856 499.5) scale(1 1.01)"/>
<path d="M859.7 520.1 L859.7 525.3" fill="none" stroke="#121727" stroke-width="1.4"/>
<use href="#brk" transform="translate(865.1 499.5) scale(1 1.01)"/>
<path d="M868.8 520.1 L868.8 525.3" fill="none" stroke="#121727" stroke-width="1.4"/>
<use href="#brk" transform="translate(923.9 499.5) scale(1 1.01)"/>
<path d="M927.6 520.1 L927.6 525.3" fill="none" stroke="#121727" stroke-width="1.4"/>
<use href="#brk" transform="translate(934.7 499.5) scale(1 1.01)"/>
<path d="M938.4 520.1 L938.4 525.3" fill="none" stroke="#121727" stroke-width="1.4"/>
<text x="853.7" y="512" font-size="9.3" font-weight="normal" font-style="normal" fill="#1f2a44" text-anchor="end" textLength="16.6" lengthAdjust="spacingAndGlyphs" stroke="#1f2a44" stroke-width="0.25">PV1+</text>
<text x="874.4" y="512" font-size="9.3" font-weight="normal" font-style="normal" fill="#1f2a44" text-anchor="start" textLength="15.4" lengthAdjust="spacingAndGlyphs" stroke="#1f2a44" stroke-width="0.25">PV1-</text>
<text x="921.8" y="512" font-size="9.3" font-weight="normal" font-style="normal" fill="#1f2a44" text-anchor="end" textLength="15.4" lengthAdjust="spacingAndGlyphs" stroke="#1f2a44" stroke-width="0.25">PV2-</text>
<text x="944" y="512" font-size="9.3" font-weight="normal" font-style="normal" fill="#1f2a44" text-anchor="start" textLength="16.6" lengthAdjust="spacingAndGlyphs" stroke="#1f2a44" stroke-width="0.25">PV2+</text>
<use href="#solar" transform="translate(853.05 524.8) scale(1.02 1.01)"/>
<text x="843.25" y="548" font-size="10.6" font-weight="bold" font-style="normal" fill="#1a2135" text-anchor="start" textLength="39" lengthAdjust="spacingAndGlyphs" stroke="#1a2135" stroke-width="0.3">PV array</text>
<use href="#solar" transform="translate(921.8 524.8) scale(1.02 1.01)"/>
<text x="912" y="548" font-size="10.6" font-weight="bold" font-style="normal" fill="#1a2135" text-anchor="start" textLength="39" lengthAdjust="spacingAndGlyphs" stroke="#1a2135" stroke-width="0.3">PV array</text>
<use href="#inv" transform="translate(582.3 170.1) scale(0.99)"/>
<use href="#inv" transform="translate(701 170.1) scale(0.99)"/>
<use href="#inv" transform="translate(819.8 170.1) scale(0.99)"/>
<use href="#bat" transform="translate(520.1 374.8) scale(0.97 0.91)"/>
<use href="#tower" transform="translate(526.6 406) scale(0.99 1)"/>
<text x="522.4" y="446.3" font-size="11.5" font-weight="bold" font-style="normal" fill="#141a2b" text-anchor="start" textLength="32.9" lengthAdjust="spacingAndGlyphs" stroke="#141a2b" stroke-width="0.35">Utility</text>
<use href="#house" transform="translate(525.6 448.9) scale(1 0.99)"/>
<text x="523.7" y="487.2" font-size="11.5" font-weight="bold" font-style="normal" fill="#141a2b" text-anchor="start" textLength="31.8" lengthAdjust="spacingAndGlyphs" stroke="#141a2b" stroke-width="0.35">Loads</text>
<text x="562.3" y="419.8" font-size="8.7" font-weight="bold" font-style="normal" fill="#2a63b3" text-anchor="middle" textLength="6.5" lengthAdjust="spacingAndGlyphs" stroke="#2a63b3" stroke-width="0.2">N</text>
<use href="#term" transform="translate(573.3 413.6) scale(1 0.86)"/>
<text x="562.3" y="428.7" font-size="8.7" font-weight="bold" font-style="normal" fill="#1c2540" text-anchor="middle" textLength="8.2" lengthAdjust="spacingAndGlyphs" stroke="#1c2540" stroke-width="0.2">L1</text>
<use href="#term" transform="translate(573.3 422.5) scale(1 0.86)"/>
<text x="562.3" y="437.1" font-size="8.7" font-weight="bold" font-style="normal" fill="#1c2540" text-anchor="middle" textLength="8.2" lengthAdjust="spacingAndGlyphs" stroke="#1c2540" stroke-width="0.2">L2</text>
<use href="#term" transform="translate(573.3 430.9) scale(1 0.86)"/>
<text x="562.3" y="445.5" font-size="8.7" font-weight="bold" font-style="normal" fill="#1c2540" text-anchor="middle" textLength="8.2" lengthAdjust="spacingAndGlyphs" stroke="#1c2540" stroke-width="0.2">L3</text>
<use href="#term" transform="translate(573.3 439.3) scale(1 0.86)"/>
<text x="562.3" y="460" font-size="8.7" font-weight="bold" font-style="normal" fill="#2a63b3" text-anchor="middle" textLength="6.5" lengthAdjust="spacingAndGlyphs" stroke="#2a63b3" stroke-width="0.2">N</text>
<use href="#term" transform="translate(573.3 453.8) scale(1 0.86)"/>
<text x="562.3" y="467.4" font-size="8.7" font-weight="bold" font-style="normal" fill="#1c2540" text-anchor="middle" textLength="8.2" lengthAdjust="spacingAndGlyphs" stroke="#1c2540" stroke-width="0.2">L1</text>
<use href="#term" transform="translate(573.3 461.2) scale(1 0.86)"/>
<text x="562.3" y="474.9" font-size="8.7" font-weight="bold" font-style="normal" fill="#1c2540" text-anchor="middle" textLength="8.2" lengthAdjust="spacingAndGlyphs" stroke="#1c2540" stroke-width="0.2">L2</text>
<use href="#term" transform="translate(573.3 468.7) scale(1 0.86)"/>
<text x="562.3" y="483.5" font-size="8.7" font-weight="bold" font-style="normal" fill="#1c2540" text-anchor="middle" textLength="8.2" lengthAdjust="spacingAndGlyphs" stroke="#1c2540" stroke-width="0.2">L3</text>
<use href="#term" transform="translate(573.3 477.3) scale(1 0.86)"/>
<path d="M189 841.8 L814.6 841.8" fill="none" stroke="#121727" stroke-width="1.9" stroke-dasharray="5 2.6"/>
<path d="M189 851.3 L350.2 851.3" fill="none" stroke="#2d529a" stroke-width="1.7"/>
<path d="M189 860.1 L587.1 860.1" fill="none" stroke="#2f9c66" stroke-width="1.7"/>
<path d="M189 870.2 L819.5 870.2" fill="none" stroke="#cb4750" stroke-width="1.7"/>
<path d="M189 885.6 L828.9 885.6" fill="none" stroke="#121727" stroke-width="1.9" stroke-dasharray="5 2.6"/>
<path d="M189 894.9 L364.5 894.9" fill="none" stroke="#2d529a" stroke-width="1.7"/>
<path d="M189 903.6 L601.4 903.6" fill="none" stroke="#2f9c66" stroke-width="1.7"/>
<path d="M189 915.4 L835 915.4" fill="none" stroke="#cb4750" stroke-width="1.7"/>
<path d="M167.2 803.6 L842.4 803.6" fill="none" stroke="#121727" stroke-width="1.7"/>
<path d="M167.2 812 L852 812" fill="none" stroke="#121727" stroke-width="1.9" stroke-dasharray="5 2.8"/>
<path d="M229.9 731.78 L229.9 841.8" fill="none" stroke="#121727" stroke-width="1.6" stroke-dasharray="4 2.5"/>
<path d="M244.7 731.78 L244.7 885.6" fill="none" stroke="#121727" stroke-width="1.6" stroke-dasharray="4 2.5"/>
<path d="M235.1 731.78 L235.1 758.7 Q235.1 759.7 236.1 759.7 L238.7 759.7 Q239.7 759.7 239.7 758.7 L239.7 731.78" fill="none" stroke="#16181f" stroke-width="1.3"/>
<path d="M237.4 759.7 L237.4 851.3" fill="none" stroke="#2d529a" stroke-width="1.6"/>
<path d="M248.9 731.78 L248.9 758.7 Q248.9 759.7 249.9 759.7 L252.5 759.7 Q253.5 759.7 253.5 758.7 L253.5 731.78" fill="none" stroke="#16181f" stroke-width="1.3"/>
<path d="M251.2 759.7 L251.2 894.9" fill="none" stroke="#2d529a" stroke-width="1.6"/>
<path d="M260.3 731.78 L260.3 803.6" fill="none" stroke="#121727" stroke-width="1.6"/>
<path d="M268.9 731.78 L268.9 812" fill="none" stroke="#121727" stroke-width="1.6" stroke-dasharray="4 2.5"/>
<path d="M273.3 731.78 L273.3 920.3 L249.8 920.3 L249.8 931.2" fill="none" stroke="#121727" stroke-width="1.7"/>
<path d="M279 731.78 L279 927 L258.7 927 L258.7 931.2" fill="none" stroke="#121727" stroke-width="1.7" stroke-dasharray="4 2.5"/>
<path d="M292.2 731.78 L292.2 927 L307.4 927 L307.4 931.2" fill="none" stroke="#121727" stroke-width="1.7" stroke-dasharray="4 2.5"/>
<path d="M298.1 731.78 L298.1 920.3 L318.3 920.3 L318.3 931.2" fill="none" stroke="#121727" stroke-width="1.7"/>
<use href="#brk" transform="translate(256.6 752) scale(1 1)"/>
<use href="#brk" transform="translate(265.2 752) scale(1 1)"/>
<circle cx="229.9" cy="841.8" r="2.85" fill="#121727"/>
<circle cx="244.7" cy="885.6" r="2.85" fill="#121727"/>
<circle cx="237.4" cy="851.3" r="2.85" fill="#2d529a"/>
<circle cx="251.2" cy="894.9" r="2.85" fill="#2d529a"/>
<circle cx="260.3" cy="803.6" r="2.85" fill="#121727"/>
<circle cx="268.9" cy="812" r="2.85" fill="#121727"/>
<text x="228.9" y="765" font-size="4.4" fill="#15161c" font-weight="bold" textLength="27.4" lengthAdjust="spacingAndGlyphs">L1 L2 L3 L1 L2 L3</text>
<use href="#brk" transform="translate(246.1 931.2) scale(1 0.95)"/>
<path d="M249.8 950.6 L249.8 958.3" fill="none" stroke="#121727" stroke-width="1.4"/>
<use href="#brk" transform="translate(255 931.2) scale(1 0.95)"/>
<path d="M258.7 950.6 L258.7 958.3" fill="none" stroke="#121727" stroke-width="1.4"/>
<use href="#brk" transform="translate(303.7 931.2) scale(1 0.95)"/>
<path d="M307.4 950.6 L307.4 958.3" fill="none" stroke="#121727" stroke-width="1.4"/>
<use href="#brk" transform="translate(314.6 931.2) scale(1 0.95)"/>
<path d="M318.3 950.6 L318.3 958.3" fill="none" stroke="#121727" stroke-width="1.4"/>
<text x="243.6" y="947.2" font-size="9.3" font-weight="normal" font-style="normal" fill="#1f2a44" text-anchor="end" textLength="16" lengthAdjust="spacingAndGlyphs" stroke="#1f2a44" stroke-width="0.25">PV1+</text>
<text x="264.1" y="947.2" font-size="9.3" font-weight="normal" font-style="normal" fill="#1f2a44" text-anchor="start" textLength="15" lengthAdjust="spacingAndGlyphs" stroke="#1f2a44" stroke-width="0.25">PV1-</text>
<text x="301.4" y="947.2" font-size="9.3" font-weight="normal" font-style="normal" fill="#1f2a44" text-anchor="end" textLength="15" lengthAdjust="spacingAndGlyphs" stroke="#1f2a44" stroke-width="0.25">PV2-</text>
<text x="323.7" y="947.2" font-size="9.3" font-weight="normal" font-style="normal" fill="#1f2a44" text-anchor="start" textLength="16" lengthAdjust="spacingAndGlyphs" stroke="#1f2a44" stroke-width="0.25">PV2+</text>
<use href="#solar" transform="translate(242.95 957.8) scale(1.03 1)"/>
<text x="232.25" y="981.6" font-size="10.6" font-weight="bold" font-style="normal" fill="#1a2135" text-anchor="start" textLength="39" lengthAdjust="spacingAndGlyphs" stroke="#1a2135" stroke-width="0.3">PV array</text>
<use href="#solar" transform="translate(301.55 957.8) scale(1.03 1)"/>
<text x="290.85" y="981.6" font-size="10.6" font-weight="bold" font-style="normal" fill="#1a2135" text-anchor="start" textLength="39" lengthAdjust="spacingAndGlyphs" stroke="#1a2135" stroke-width="0.3">PV array</text>
<path d="M345 731.78 L345 841.8" fill="none" stroke="#121727" stroke-width="1.6" stroke-dasharray="4 2.5"/>
<path d="M357.6 731.78 L357.6 885.6" fill="none" stroke="#121727" stroke-width="1.6" stroke-dasharray="4 2.5"/>
<path d="M348.1 731.78 L348.1 758.7 Q348.1 759.7 349.1 759.7 L351.7 759.7 Q352.7 759.7 352.7 758.7 L352.7 731.78" fill="none" stroke="#16181f" stroke-width="1.3"/>
<path d="M350.4 759.7 L350.4 851.3" fill="none" stroke="#2d529a" stroke-width="1.6"/>
<path d="M362.1 731.78 L362.1 758.7 Q362.1 759.7 363.1 759.7 L365.7 759.7 Q366.7 759.7 366.7 758.7 L366.7 731.78" fill="none" stroke="#16181f" stroke-width="1.3"/>
<path d="M364.4 759.7 L364.4 894.9" fill="none" stroke="#2d529a" stroke-width="1.6"/>
<path d="M374.4 731.78 L374.4 803.6" fill="none" stroke="#121727" stroke-width="1.6"/>
<path d="M381.7 731.78 L381.7 812" fill="none" stroke="#121727" stroke-width="1.6" stroke-dasharray="4 2.5"/>
<path d="M387 731.78 L387 920.3 L363.5 920.3 L363.5 931.2" fill="none" stroke="#121727" stroke-width="1.7"/>
<path d="M392.6 731.78 L392.6 927 L372.3 927 L372.3 931.2" fill="none" stroke="#121727" stroke-width="1.7" stroke-dasharray="4 2.5"/>
<path d="M405.9 731.78 L405.9 927 L421.1 927 L421.1 931.2" fill="none" stroke="#121727" stroke-width="1.7" stroke-dasharray="4 2.5"/>
<path d="M411.6 731.78 L411.6 920.3 L431.8 920.3 L431.8 931.2" fill="none" stroke="#121727" stroke-width="1.7"/>
<use href="#brk" transform="translate(370.7 752) scale(1 1)"/>
<use href="#brk" transform="translate(378 752) scale(1 1)"/>
<circle cx="345" cy="841.8" r="2.85" fill="#121727"/>
<circle cx="357.6" cy="885.6" r="2.85" fill="#121727"/>
<circle cx="350.4" cy="851.3" r="2.85" fill="#2d529a"/>
<circle cx="364.4" cy="894.9" r="2.85" fill="#2d529a"/>
<circle cx="374.4" cy="803.6" r="2.85" fill="#121727"/>
<circle cx="381.7" cy="812" r="2.85" fill="#121727"/>
<text x="344" y="765" font-size="4.4" fill="#15161c" font-weight="bold" textLength="26.4" lengthAdjust="spacingAndGlyphs">L1 L2 L3 L1 L2 L3</text>
<use href="#brk" transform="translate(359.8 931.2) scale(1 0.95)"/>
<path d="M363.5 950.6 L363.5 958.3" fill="none" stroke="#121727" stroke-width="1.4"/>
<use href="#brk" transform="translate(368.6 931.2) scale(1 0.95)"/>
<path d="M372.3 950.6 L372.3 958.3" fill="none" stroke="#121727" stroke-width="1.4"/>
<use href="#brk" transform="translate(417.4 931.2) scale(1 0.95)"/>
<path d="M421.1 950.6 L421.1 958.3" fill="none" stroke="#121727" stroke-width="1.4"/>
<use href="#brk" transform="translate(428.1 931.2) scale(1 0.95)"/>
<path d="M431.8 950.6 L431.8 958.3" fill="none" stroke="#121727" stroke-width="1.4"/>
<text x="357.3" y="947.2" font-size="9.3" font-weight="normal" font-style="normal" fill="#1f2a44" text-anchor="end" textLength="16" lengthAdjust="spacingAndGlyphs" stroke="#1f2a44" stroke-width="0.25">PV1+</text>
<text x="377.7" y="947.2" font-size="9.3" font-weight="normal" font-style="normal" fill="#1f2a44" text-anchor="start" textLength="15" lengthAdjust="spacingAndGlyphs" stroke="#1f2a44" stroke-width="0.25">PV1-</text>
<text x="415.1" y="947.2" font-size="9.3" font-weight="normal" font-style="normal" fill="#1f2a44" text-anchor="end" textLength="15" lengthAdjust="spacingAndGlyphs" stroke="#1f2a44" stroke-width="0.25">PV2-</text>
<text x="437.2" y="947.2" font-size="9.3" font-weight="normal" font-style="normal" fill="#1f2a44" text-anchor="start" textLength="16" lengthAdjust="spacingAndGlyphs" stroke="#1f2a44" stroke-width="0.25">PV2+</text>
<use href="#solar" transform="translate(356.6 957.8) scale(1.03 1)"/>
<text x="345.9" y="981.6" font-size="10.6" font-weight="bold" font-style="normal" fill="#1a2135" text-anchor="start" textLength="39" lengthAdjust="spacingAndGlyphs" stroke="#1a2135" stroke-width="0.3">PV array</text>
<use href="#solar" transform="translate(415.15 957.8) scale(1.03 1)"/>
<text x="404.45" y="981.6" font-size="10.6" font-weight="bold" font-style="normal" fill="#1a2135" text-anchor="start" textLength="39" lengthAdjust="spacingAndGlyphs" stroke="#1a2135" stroke-width="0.3">PV array</text>
<path d="M466.6 731.78 L466.6 841.8" fill="none" stroke="#121727" stroke-width="1.6" stroke-dasharray="4 2.5"/>
<path d="M479.5 731.78 L479.5 885.6" fill="none" stroke="#121727" stroke-width="1.6" stroke-dasharray="4 2.5"/>
<path d="M470.9 731.78 L470.9 758.7 Q470.9 759.7 471.9 759.7 L474.5 759.7 Q475.5 759.7 475.5 758.7 L475.5 731.78" fill="none" stroke="#22a45a" stroke-width="1.3"/>
<path d="M473.2 759.7 L473.2 860.1" fill="none" stroke="#22a45a" stroke-width="1.6"/>
<path d="M483.7 731.78 L483.7 758.7 Q483.7 759.7 484.7 759.7 L487.3 759.7 Q488.3 759.7 488.3 758.7 L488.3 731.78" fill="none" stroke="#22a45a" stroke-width="1.3"/>
<path d="M486 759.7 L486 903.6" fill="none" stroke="#22a45a" stroke-width="1.6"/>
<path d="M496 731.78 L496 803.6" fill="none" stroke="#121727" stroke-width="1.6"/>
<path d="M502.5 731.78 L502.5 812" fill="none" stroke="#121727" stroke-width="1.6" stroke-dasharray="4 2.5"/>
<path d="M507 731.78 L507 920.3 L483.5 920.3 L483.5 931.2" fill="none" stroke="#121727" stroke-width="1.7"/>
<path d="M512.8 731.78 L512.8 927 L492.5 927 L492.5 931.2" fill="none" stroke="#121727" stroke-width="1.7" stroke-dasharray="4 2.5"/>
<path d="M525.5 731.78 L525.5 927 L540.7 927 L540.7 931.2" fill="none" stroke="#121727" stroke-width="1.7" stroke-dasharray="4 2.5"/>
<path d="M531.2 731.78 L531.2 920.3 L551.4 920.3 L551.4 931.2" fill="none" stroke="#121727" stroke-width="1.7"/>
<use href="#brk" transform="translate(492.3 752) scale(1 1)"/>
<use href="#brk" transform="translate(498.8 752) scale(1 1)"/>
<circle cx="466.6" cy="841.8" r="2.85" fill="#121727"/>
<circle cx="479.5" cy="885.6" r="2.85" fill="#121727"/>
<circle cx="473.2" cy="860.1" r="2.85" fill="#22a45a"/>
<circle cx="486" cy="903.6" r="2.85" fill="#22a45a"/>
<circle cx="496" cy="803.6" r="2.85" fill="#121727"/>
<circle cx="502.5" cy="812" r="2.85" fill="#121727"/>
<text x="465.6" y="765" font-size="4.4" fill="#15161c" font-weight="bold" textLength="26.4" lengthAdjust="spacingAndGlyphs">L1 L2 L3 L1 L2 L3</text>
<use href="#brk" transform="translate(479.8 931.2) scale(1 0.95)"/>
<path d="M483.5 950.6 L483.5 958.3" fill="none" stroke="#121727" stroke-width="1.4"/>
<use href="#brk" transform="translate(488.8 931.2) scale(1 0.95)"/>
<path d="M492.5 950.6 L492.5 958.3" fill="none" stroke="#121727" stroke-width="1.4"/>
<use href="#brk" transform="translate(537 931.2) scale(1 0.95)"/>
<path d="M540.7 950.6 L540.7 958.3" fill="none" stroke="#121727" stroke-width="1.4"/>
<use href="#brk" transform="translate(547.7 931.2) scale(1 0.95)"/>
<path d="M551.4 950.6 L551.4 958.3" fill="none" stroke="#121727" stroke-width="1.4"/>
<text x="477.3" y="947.2" font-size="9.3" font-weight="normal" font-style="normal" fill="#1f2a44" text-anchor="end" textLength="16" lengthAdjust="spacingAndGlyphs" stroke="#1f2a44" stroke-width="0.25">PV1+</text>
<text x="497.9" y="947.2" font-size="9.3" font-weight="normal" font-style="normal" fill="#1f2a44" text-anchor="start" textLength="15" lengthAdjust="spacingAndGlyphs" stroke="#1f2a44" stroke-width="0.25">PV1-</text>
<text x="534.7" y="947.2" font-size="9.3" font-weight="normal" font-style="normal" fill="#1f2a44" text-anchor="end" textLength="15" lengthAdjust="spacingAndGlyphs" stroke="#1f2a44" stroke-width="0.25">PV2-</text>
<text x="556.8" y="947.2" font-size="9.3" font-weight="normal" font-style="normal" fill="#1f2a44" text-anchor="start" textLength="16" lengthAdjust="spacingAndGlyphs" stroke="#1f2a44" stroke-width="0.25">PV2+</text>
<use href="#solar" transform="translate(476.7 957.8) scale(1.03 1)"/>
<text x="466" y="981.6" font-size="10.6" font-weight="bold" font-style="normal" fill="#1a2135" text-anchor="start" textLength="39" lengthAdjust="spacingAndGlyphs" stroke="#1a2135" stroke-width="0.3">PV array</text>
<use href="#solar" transform="translate(534.75 957.8) scale(1.03 1)"/>
<text x="524.05" y="981.6" font-size="10.6" font-weight="bold" font-style="normal" fill="#1a2135" text-anchor="start" textLength="39" lengthAdjust="spacingAndGlyphs" stroke="#1a2135" stroke-width="0.3">PV array</text>
<path d="M581.8 731.78 L581.8 841.8" fill="none" stroke="#121727" stroke-width="1.6" stroke-dasharray="4 2.5"/>
<path d="M595.2 731.78 L595.2 885.6" fill="none" stroke="#121727" stroke-width="1.6" stroke-dasharray="4 2.5"/>
<path d="M584.8 731.78 L584.8 758.7 Q584.8 759.7 585.8 759.7 L588.4 759.7 Q589.4 759.7 589.4 758.7 L589.4 731.78" fill="none" stroke="#22a45a" stroke-width="1.3"/>
<path d="M587.1 759.7 L587.1 860.1" fill="none" stroke="#22a45a" stroke-width="1.6"/>
<path d="M599.1 731.78 L599.1 758.7 Q599.1 759.7 600.1 759.7 L602.7 759.7 Q603.7 759.7 603.7 758.7 L603.7 731.78" fill="none" stroke="#22a45a" stroke-width="1.3"/>
<path d="M601.4 759.7 L601.4 903.6" fill="none" stroke="#22a45a" stroke-width="1.6"/>
<path d="M611 731.78 L611 803.6" fill="none" stroke="#121727" stroke-width="1.6"/>
<path d="M617.5 731.78 L617.5 812" fill="none" stroke="#121727" stroke-width="1.6" stroke-dasharray="4 2.5"/>
<path d="M622.1 731.78 L622.1 920.3 L598.6 920.3 L598.6 931.2" fill="none" stroke="#121727" stroke-width="1.7"/>
<path d="M627.8 731.78 L627.8 927 L607.5 927 L607.5 931.2" fill="none" stroke="#121727" stroke-width="1.7" stroke-dasharray="4 2.5"/>
<path d="M641 731.78 L641 927 L656.2 927 L656.2 931.2" fill="none" stroke="#121727" stroke-width="1.7" stroke-dasharray="4 2.5"/>
<path d="M647 731.78 L647 920.3 L667.2 920.3 L667.2 931.2" fill="none" stroke="#121727" stroke-width="1.7"/>
<use href="#brk" transform="translate(607.3 752) scale(1 1)"/>
<use href="#brk" transform="translate(613.8 752) scale(1 1)"/>
<circle cx="581.8" cy="841.8" r="2.85" fill="#121727"/>
<circle cx="595.2" cy="885.6" r="2.85" fill="#121727"/>
<circle cx="587.1" cy="860.1" r="2.85" fill="#22a45a"/>
<circle cx="601.4" cy="903.6" r="2.85" fill="#22a45a"/>
<circle cx="611" cy="803.6" r="2.85" fill="#121727"/>
<circle cx="617.5" cy="812" r="2.85" fill="#121727"/>
<text x="580.8" y="765" font-size="4.4" fill="#15161c" font-weight="bold" textLength="26.2" lengthAdjust="spacingAndGlyphs">L1 L2 L3 L1 L2 L3</text>
<use href="#brk" transform="translate(594.9 931.2) scale(1 0.95)"/>
<path d="M598.6 950.6 L598.6 958.3" fill="none" stroke="#121727" stroke-width="1.4"/>
<use href="#brk" transform="translate(603.8 931.2) scale(1 0.95)"/>
<path d="M607.5 950.6 L607.5 958.3" fill="none" stroke="#121727" stroke-width="1.4"/>
<use href="#brk" transform="translate(652.5 931.2) scale(1 0.95)"/>
<path d="M656.2 950.6 L656.2 958.3" fill="none" stroke="#121727" stroke-width="1.4"/>
<use href="#brk" transform="translate(663.5 931.2) scale(1 0.95)"/>
<path d="M667.2 950.6 L667.2 958.3" fill="none" stroke="#121727" stroke-width="1.4"/>
<text x="592.4" y="947.2" font-size="9.3" font-weight="normal" font-style="normal" fill="#1f2a44" text-anchor="end" textLength="16" lengthAdjust="spacingAndGlyphs" stroke="#1f2a44" stroke-width="0.25">PV1+</text>
<text x="612.9" y="947.2" font-size="9.3" font-weight="normal" font-style="normal" fill="#1f2a44" text-anchor="start" textLength="15" lengthAdjust="spacingAndGlyphs" stroke="#1f2a44" stroke-width="0.25">PV1-</text>
<text x="650.2" y="947.2" font-size="9.3" font-weight="normal" font-style="normal" fill="#1f2a44" text-anchor="end" textLength="15" lengthAdjust="spacingAndGlyphs" stroke="#1f2a44" stroke-width="0.25">PV2-</text>
<text x="672.6" y="947.2" font-size="9.3" font-weight="normal" font-style="normal" fill="#1f2a44" text-anchor="start" textLength="16" lengthAdjust="spacingAndGlyphs" stroke="#1f2a44" stroke-width="0.25">PV2+</text>
<use href="#solar" transform="translate(591.75 957.8) scale(1.03 1)"/>
<text x="581.05" y="981.6" font-size="10.6" font-weight="bold" font-style="normal" fill="#1a2135" text-anchor="start" textLength="39" lengthAdjust="spacingAndGlyphs" stroke="#1a2135" stroke-width="0.3">PV array</text>
<use href="#solar" transform="translate(650.4 957.8) scale(1.03 1)"/>
<text x="639.7" y="981.6" font-size="10.6" font-weight="bold" font-style="normal" fill="#1a2135" text-anchor="start" textLength="39" lengthAdjust="spacingAndGlyphs" stroke="#1a2135" stroke-width="0.3">PV array</text>
<path d="M698 731.78 L698 841.8" fill="none" stroke="#121727" stroke-width="1.6" stroke-dasharray="4 2.5"/>
<path d="M712.5 731.78 L712.5 885.6" fill="none" stroke="#121727" stroke-width="1.6" stroke-dasharray="4 2.5"/>
<path d="M701.9 731.78 L701.9 758.7 Q701.9 759.7 702.9 759.7 L705.5 759.7 Q706.5 759.7 706.5 758.7 L706.5 731.78" fill="none" stroke="#d53a40" stroke-width="1.3"/>
<path d="M704.2 759.7 L704.2 870.2" fill="none" stroke="#d53a40" stroke-width="1.6"/>
<path d="M714.7 731.78 L714.7 758.7 Q714.7 759.7 715.7 759.7 L718.3 759.7 Q719.3 759.7 719.3 758.7 L719.3 731.78" fill="none" stroke="#d53a40" stroke-width="1.3"/>
<path d="M717 759.7 L717 915.4" fill="none" stroke="#d53a40" stroke-width="1.6"/>
<path d="M725 731.78 L725 803.6" fill="none" stroke="#121727" stroke-width="1.6"/>
<path d="M734 731.78 L734 812" fill="none" stroke="#121727" stroke-width="1.6" stroke-dasharray="4 2.5"/>
<path d="M739.4 731.78 L739.4 920.3 L715.9 920.3 L715.9 931.2" fill="none" stroke="#121727" stroke-width="1.7"/>
<path d="M745 731.78 L745 927 L724.7 927 L724.7 931.2" fill="none" stroke="#121727" stroke-width="1.7" stroke-dasharray="4 2.5"/>
<path d="M757.8 731.78 L757.8 927 L773 927 L773 931.2" fill="none" stroke="#121727" stroke-width="1.7" stroke-dasharray="4 2.5"/>
<path d="M763.5 731.78 L763.5 920.3 L783.7 920.3 L783.7 931.2" fill="none" stroke="#121727" stroke-width="1.7"/>
<use href="#brk" transform="translate(721.3 752) scale(1 1)"/>
<use href="#brk" transform="translate(730.3 752) scale(1 1)"/>
<circle cx="698" cy="841.8" r="2.85" fill="#121727"/>
<circle cx="712.5" cy="885.6" r="2.85" fill="#121727"/>
<circle cx="704.2" cy="870.2" r="2.85" fill="#d53a40"/>
<circle cx="717" cy="915.4" r="2.85" fill="#d53a40"/>
<circle cx="725" cy="803.6" r="2.85" fill="#121727"/>
<circle cx="734" cy="812" r="2.85" fill="#121727"/>
<text x="697" y="765" font-size="4.4" fill="#15161c" font-weight="bold" textLength="24" lengthAdjust="spacingAndGlyphs">L1 L2 L3 L1 L2 L3</text>
<use href="#brk" transform="translate(712.2 931.2) scale(1 0.95)"/>
<path d="M715.9 950.6 L715.9 958.3" fill="none" stroke="#121727" stroke-width="1.4"/>
<use href="#brk" transform="translate(721 931.2) scale(1 0.95)"/>
<path d="M724.7 950.6 L724.7 958.3" fill="none" stroke="#121727" stroke-width="1.4"/>
<use href="#brk" transform="translate(769.3 931.2) scale(1 0.95)"/>
<path d="M773 950.6 L773 958.3" fill="none" stroke="#121727" stroke-width="1.4"/>
<use href="#brk" transform="translate(780 931.2) scale(1 0.95)"/>
<path d="M783.7 950.6 L783.7 958.3" fill="none" stroke="#121727" stroke-width="1.4"/>
<text x="709.7" y="947.2" font-size="9.3" font-weight="normal" font-style="normal" fill="#1f2a44" text-anchor="end" textLength="16" lengthAdjust="spacingAndGlyphs" stroke="#1f2a44" stroke-width="0.25">PV1+</text>
<text x="730.1" y="947.2" font-size="9.3" font-weight="normal" font-style="normal" fill="#1f2a44" text-anchor="start" textLength="15" lengthAdjust="spacingAndGlyphs" stroke="#1f2a44" stroke-width="0.25">PV1-</text>
<text x="767" y="947.2" font-size="9.3" font-weight="normal" font-style="normal" fill="#1f2a44" text-anchor="end" textLength="15" lengthAdjust="spacingAndGlyphs" stroke="#1f2a44" stroke-width="0.25">PV2-</text>
<text x="789.1" y="947.2" font-size="9.3" font-weight="normal" font-style="normal" fill="#1f2a44" text-anchor="start" textLength="16" lengthAdjust="spacingAndGlyphs" stroke="#1f2a44" stroke-width="0.25">PV2+</text>
<use href="#solar" transform="translate(709 957.8) scale(1.03 1)"/>
<text x="698.3" y="981.6" font-size="10.6" font-weight="bold" font-style="normal" fill="#1a2135" text-anchor="start" textLength="39" lengthAdjust="spacingAndGlyphs" stroke="#1a2135" stroke-width="0.3">PV array</text>
<use href="#solar" transform="translate(767.05 957.8) scale(1.03 1)"/>
<text x="756.35" y="981.6" font-size="10.6" font-weight="bold" font-style="normal" fill="#1a2135" text-anchor="start" textLength="39" lengthAdjust="spacingAndGlyphs" stroke="#1a2135" stroke-width="0.3">PV array</text>
<path d="M814.6 731.78 L814.6 841.8" fill="none" stroke="#121727" stroke-width="1.6" stroke-dasharray="4 2.5"/>
<path d="M828.9 731.78 L828.9 885.6" fill="none" stroke="#121727" stroke-width="1.6" stroke-dasharray="4 2.5"/>
<path d="M817.2 731.78 L817.2 758.7 Q817.2 759.7 818.2 759.7 L820.8 759.7 Q821.8 759.7 821.8 758.7 L821.8 731.78" fill="none" stroke="#d53a40" stroke-width="1.3"/>
<path d="M819.5 759.7 L819.5 870.2" fill="none" stroke="#d53a40" stroke-width="1.6"/>
<path d="M832.7 731.78 L832.7 758.7 Q832.7 759.7 833.7 759.7 L836.3 759.7 Q837.3 759.7 837.3 758.7 L837.3 731.78" fill="none" stroke="#d53a40" stroke-width="1.3"/>
<path d="M835 759.7 L835 915.4" fill="none" stroke="#d53a40" stroke-width="1.6"/>
<path d="M842.4 731.78 L842.4 803.6" fill="none" stroke="#121727" stroke-width="1.6"/>
<path d="M852 731.78 L852 812" fill="none" stroke="#121727" stroke-width="1.6" stroke-dasharray="4 2.5"/>
<path d="M858.5 731.78 L858.5 920.3 L835 920.3 L835 931.2" fill="none" stroke="#121727" stroke-width="1.7"/>
<path d="M864 731.78 L864 927 L843.7 927 L843.7 931.2" fill="none" stroke="#121727" stroke-width="1.7" stroke-dasharray="4 2.5"/>
<path d="M876.7 731.78 L876.7 927 L891.9 927 L891.9 931.2" fill="none" stroke="#121727" stroke-width="1.7" stroke-dasharray="4 2.5"/>
<path d="M882 731.78 L882 920.3 L902.2 920.3 L902.2 931.2" fill="none" stroke="#121727" stroke-width="1.7"/>
<use href="#brk" transform="translate(838.7 752) scale(1 1)"/>
<use href="#brk" transform="translate(848.3 752) scale(1 1)"/>
<circle cx="814.6" cy="841.8" r="2.85" fill="#121727"/>
<circle cx="828.9" cy="885.6" r="2.85" fill="#121727"/>
<circle cx="819.5" cy="870.2" r="2.85" fill="#d53a40"/>
<circle cx="835" cy="915.4" r="2.85" fill="#d53a40"/>
<circle cx="842.4" cy="803.6" r="2.85" fill="#121727"/>
<circle cx="852" cy="812" r="2.85" fill="#121727"/>
<text x="813.6" y="765" font-size="4.4" fill="#15161c" font-weight="bold" textLength="24.8" lengthAdjust="spacingAndGlyphs">L1 L2 L3 L1 L2 L3</text>
<use href="#brk" transform="translate(831.3 931.2) scale(1 0.95)"/>
<path d="M835 950.6 L835 958.3" fill="none" stroke="#121727" stroke-width="1.4"/>
<use href="#brk" transform="translate(840 931.2) scale(1 0.95)"/>
<path d="M843.7 950.6 L843.7 958.3" fill="none" stroke="#121727" stroke-width="1.4"/>
<use href="#brk" transform="translate(888.2 931.2) scale(1 0.95)"/>
<path d="M891.9 950.6 L891.9 958.3" fill="none" stroke="#121727" stroke-width="1.4"/>
<use href="#brk" transform="translate(898.5 931.2) scale(1 0.95)"/>
<path d="M902.2 950.6 L902.2 958.3" fill="none" stroke="#121727" stroke-width="1.4"/>
<text x="828.8" y="947.2" font-size="9.3" font-weight="normal" font-style="normal" fill="#1f2a44" text-anchor="end" textLength="16" lengthAdjust="spacingAndGlyphs" stroke="#1f2a44" stroke-width="0.25">PV1+</text>
<text x="849.1" y="947.2" font-size="9.3" font-weight="normal" font-style="normal" fill="#1f2a44" text-anchor="start" textLength="15" lengthAdjust="spacingAndGlyphs" stroke="#1f2a44" stroke-width="0.25">PV1-</text>
<text x="885.9" y="947.2" font-size="9.3" font-weight="normal" font-style="normal" fill="#1f2a44" text-anchor="end" textLength="15" lengthAdjust="spacingAndGlyphs" stroke="#1f2a44" stroke-width="0.25">PV2-</text>
<text x="907.6" y="947.2" font-size="9.3" font-weight="normal" font-style="normal" fill="#1f2a44" text-anchor="start" textLength="16" lengthAdjust="spacingAndGlyphs" stroke="#1f2a44" stroke-width="0.25">PV2+</text>
<use href="#solar" transform="translate(828.05 957.8) scale(1.03 1)"/>
<text x="817.35" y="981.6" font-size="10.6" font-weight="bold" font-style="normal" fill="#1a2135" text-anchor="start" textLength="39" lengthAdjust="spacingAndGlyphs" stroke="#1a2135" stroke-width="0.3">PV array</text>
<use href="#solar" transform="translate(885.75 957.8) scale(1.03 1)"/>
<text x="875.05" y="981.6" font-size="10.6" font-weight="bold" font-style="normal" fill="#1a2135" text-anchor="start" textLength="39" lengthAdjust="spacingAndGlyphs" stroke="#1a2135" stroke-width="0.3">PV array</text>
<use href="#inv" transform="translate(226.5 630) scale(0.73)"/>
<use href="#inv" transform="translate(342 630) scale(0.73)"/>
<use href="#inv" transform="translate(461 630) scale(0.73)"/>
<use href="#inv" transform="translate(575 630) scale(0.73)"/>
<use href="#inv" transform="translate(694 630) scale(0.73)"/>
<use href="#inv" transform="translate(810.4 630) scale(0.73)"/>
<use href="#bat" transform="translate(119.9 792.7) scale(1.03 1.03)"/>
<use href="#tower" transform="translate(131 830) scale(1.02 1)"/>
<text x="127" y="873" font-size="11.5" font-weight="bold" font-style="normal" fill="#141a2b" text-anchor="start" textLength="33" lengthAdjust="spacingAndGlyphs" stroke="#141a2b" stroke-width="0.35">Utility</text>
<use href="#house" transform="translate(131 879.6) scale(0.98 0.95)"/>
<text x="128.7" y="921.4" font-size="11.5" font-weight="bold" font-style="normal" fill="#141a2b" text-anchor="start" textLength="31.3" lengthAdjust="spacingAndGlyphs" stroke="#141a2b" stroke-width="0.35">Loads</text>
<text x="179.2" y="845" font-size="8.9" font-weight="bold" font-style="normal" fill="#2a63b3" text-anchor="middle" textLength="6.5" lengthAdjust="spacingAndGlyphs" stroke="#2a63b3" stroke-width="0.2">N</text>
<use href="#term" transform="translate(201.3 838.6) scale(1.04 0.91)"/>
<text x="179.2" y="854.5" font-size="8.9" font-weight="bold" font-style="normal" fill="#1c2540" text-anchor="middle" textLength="8.2" lengthAdjust="spacingAndGlyphs" stroke="#1c2540" stroke-width="0.2">L1</text>
<use href="#term" transform="translate(201.3 848.1) scale(1.04 0.91)"/>
<text x="179.2" y="863.3" font-size="8.9" font-weight="bold" font-style="normal" fill="#1c2540" text-anchor="middle" textLength="8.2" lengthAdjust="spacingAndGlyphs" stroke="#1c2540" stroke-width="0.2">L2</text>
<use href="#term" transform="translate(201.3 856.9) scale(1.04 0.91)"/>
<text x="179.2" y="873.4" font-size="8.9" font-weight="bold" font-style="normal" fill="#1c2540" text-anchor="middle" textLength="8.2" lengthAdjust="spacingAndGlyphs" stroke="#1c2540" stroke-width="0.2">L3</text>
<use href="#term" transform="translate(201.3 867) scale(1.04 0.91)"/>
<text x="179.2" y="888.8" font-size="8.9" font-weight="bold" font-style="normal" fill="#2a63b3" text-anchor="middle" textLength="6.5" lengthAdjust="spacingAndGlyphs" stroke="#2a63b3" stroke-width="0.2">N</text>
<use href="#term" transform="translate(201.3 882.4) scale(1.04 0.91)"/>
<text x="179.2" y="898.1" font-size="8.9" font-weight="bold" font-style="normal" fill="#1c2540" text-anchor="middle" textLength="8.2" lengthAdjust="spacingAndGlyphs" stroke="#1c2540" stroke-width="0.2">L1</text>
<use href="#term" transform="translate(201.3 891.7) scale(1.04 0.91)"/>
<text x="179.2" y="906.8" font-size="8.9" font-weight="bold" font-style="normal" fill="#1c2540" text-anchor="middle" textLength="8.2" lengthAdjust="spacingAndGlyphs" stroke="#1c2540" stroke-width="0.2">L2</text>
<use href="#term" transform="translate(201.3 900.4) scale(1.04 0.91)"/>
<text x="179.2" y="918.6" font-size="8.9" font-weight="bold" font-style="normal" fill="#1c2540" text-anchor="middle" textLength="8.2" lengthAdjust="spacingAndGlyphs" stroke="#1c2540" stroke-width="0.2">L3</text>
<use href="#term" transform="translate(201.3 912.2) scale(1.04 0.91)"/>
<path d="M268.4 627 L268.4 621.4 L387.6 621.4 L387.6 627" fill="none" stroke="#222" stroke-width="1.2"/>
<text x="328.2" y="619" font-size="10.5" font-weight="normal" font-style="normal" fill="#3a3f4a" text-anchor="middle" textLength="12.5" lengthAdjust="spacingAndGlyphs">P1</text>
<path d="M495.3 627 L495.3 621.4 L613.8 621.4 L613.8 627" fill="none" stroke="#222" stroke-width="1.2"/>
<text x="555.5" y="619" font-size="10.5" font-weight="normal" font-style="normal" fill="#3a3f4a" text-anchor="middle" textLength="12.5" lengthAdjust="spacingAndGlyphs">P2</text>
<path d="M728.7 627 L728.7 621.4 L847.4 621.4 L847.4 627" fill="none" stroke="#222" stroke-width="1.2"/>
<text x="788" y="619" font-size="10.5" font-weight="normal" font-style="normal" fill="#3a3f4a" text-anchor="middle" textLength="12.5" lengthAdjust="spacingAndGlyphs">P3</text>
</svg></body></html>
